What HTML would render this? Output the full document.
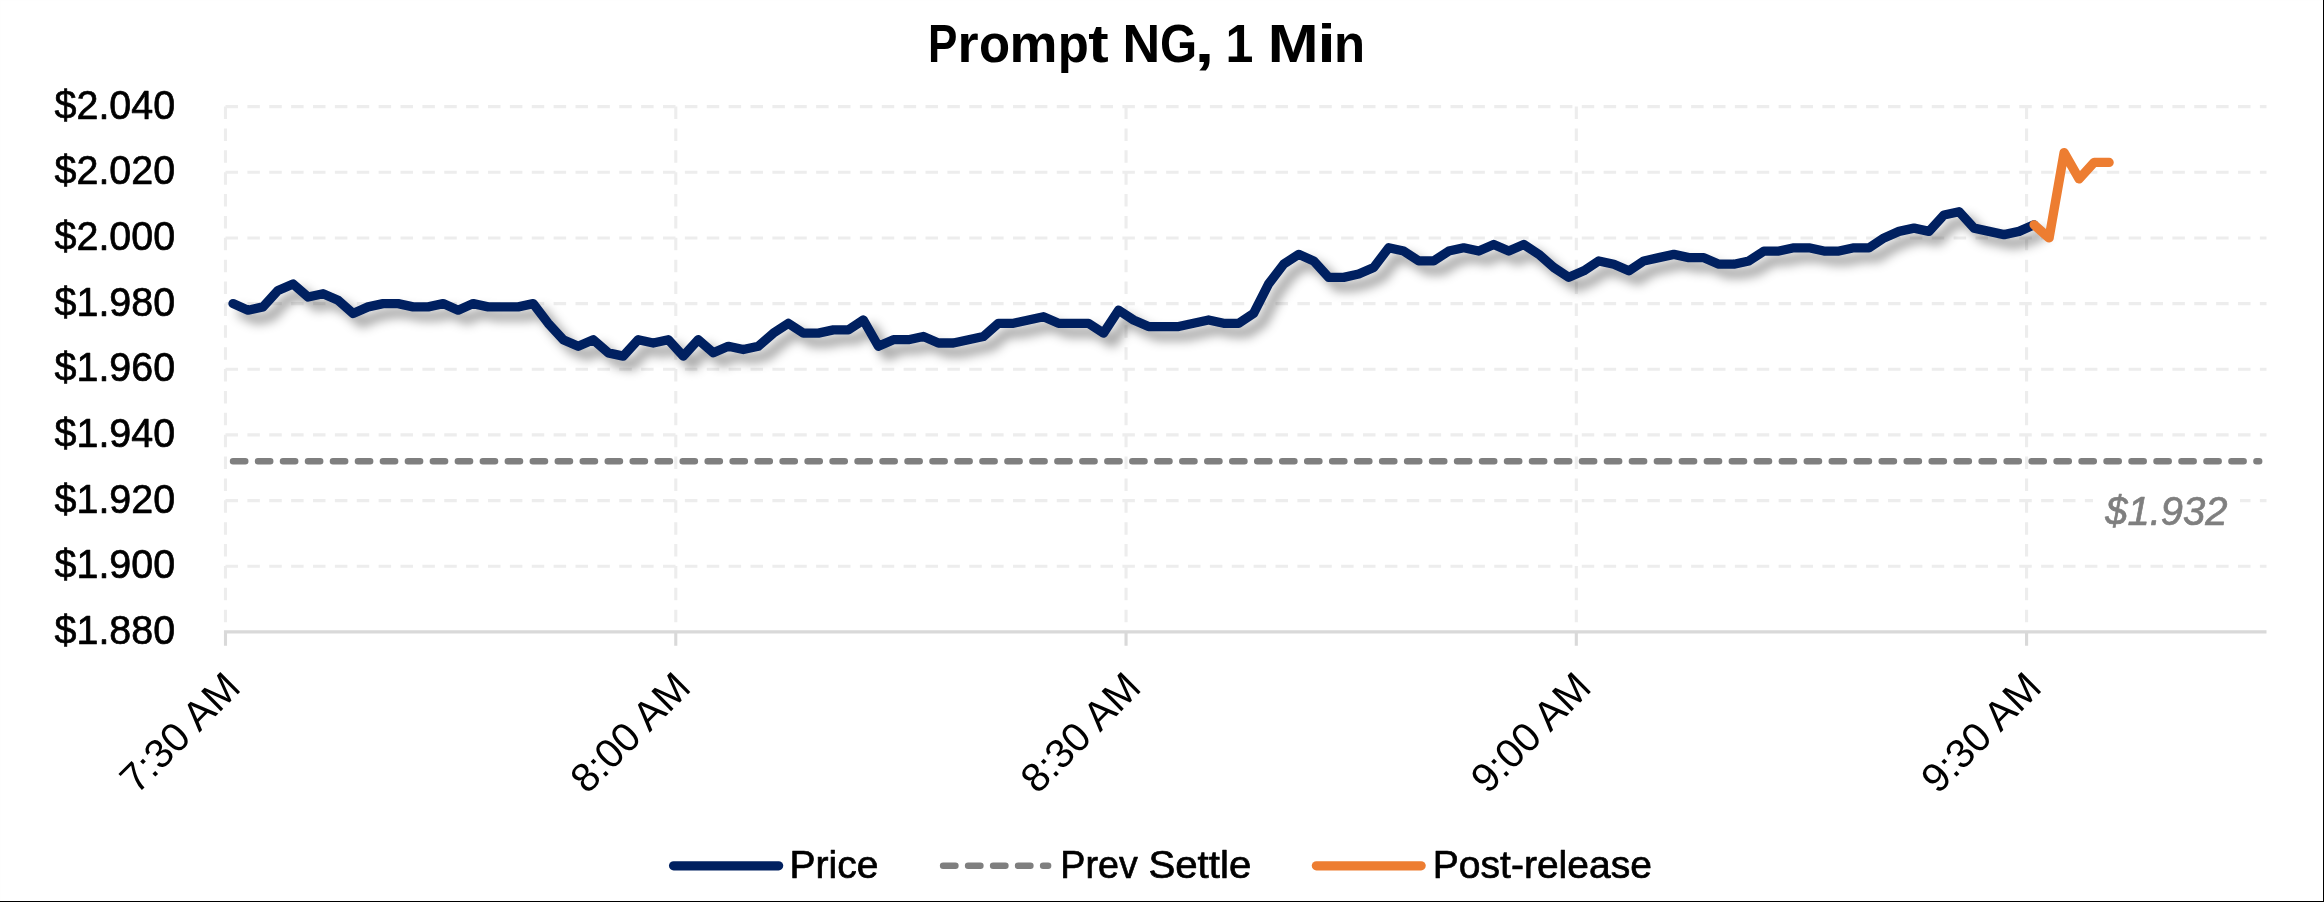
<!DOCTYPE html><html><head><meta charset="utf-8"><title>Prompt NG, 1 Min</title>
<style>html,body{margin:0;padding:0;background:#fff}body{width:2324px;height:902px;overflow:hidden;position:relative}svg{position:absolute;left:0;top:0;display:block;will-change:transform}text{font-family:"Liberation Sans",sans-serif}</style></head><body>
<svg width="2324" height="902" viewBox="0 0 2324 902">
<defs><filter id="sh" x="-5%" y="-50%" width="110%" height="200%" color-interpolation-filters="sRGB"><feGaussianBlur in="SourceAlpha" stdDeviation="5.5"/><feOffset dx="8.84" dy="8.84" result="b"/><feFlood flood-color="#000" flood-opacity="0.4"/><feComposite in2="b" operator="in" result="s"/><feMerge><feMergeNode in="s"/><feMergeNode in="SourceGraphic"/></feMerge></filter></defs>
<rect x="0" y="0" width="2324" height="902" fill="#fff"/>
<path d="M225.50 106.62H2266.50M225.50 172.28H2266.50M225.50 237.94H2266.50M225.50 303.60H2266.50M225.50 369.26H2266.50M225.50 434.92H2266.50M225.50 500.58H2266.50M225.50 566.24H2266.50" stroke="#ededed" stroke-width="3.1" stroke-dasharray="12.5 9.375" fill="none"/>
<path d="M225.50 106.62V631.90M675.77 106.62V631.90M1126.04 106.62V631.90M1576.31 106.62V631.90M2026.58 106.62V631.90" stroke="#ededed" stroke-width="3.1" stroke-dasharray="12.5 9.375" fill="none"/>
<path d="M223.95 631.90H2266.50M225.50 631.90V645.80M675.77 631.90V645.80M1126.04 631.90V645.80M1576.31 631.90V645.80M2026.58 631.90V645.80" stroke="#d9d9d9" stroke-width="3.1" fill="none"/>
<path d="M233.00 461.28H2259.22" stroke="#7f7f7f" stroke-width="6.4" stroke-linecap="round" stroke-dasharray="12.3 12.68" fill="none"/>
<polyline points="233.00,303.60 248.01,310.17 263.02,306.88 278.03,290.47 293.04,283.90 308.05,297.03 323.06,293.75 338.07,300.32 353.08,313.45 368.09,306.88 383.09,303.60 398.10,303.60 413.11,306.88 428.12,306.88 443.13,303.60 458.14,310.17 473.15,303.60 488.16,306.88 503.17,306.88 518.18,306.88 533.18,303.60 548.19,323.30 563.20,339.71 578.21,346.28 593.22,339.71 608.23,352.84 623.24,356.13 638.25,339.71 653.26,343.00 668.27,339.71 683.27,356.13 698.28,339.71 713.29,352.84 728.30,346.28 743.31,349.56 758.32,346.28 773.33,333.15 788.34,323.30 803.35,333.15 818.36,333.15 833.36,329.86 848.37,329.86 863.38,320.01 878.39,346.28 893.40,339.71 908.41,339.71 923.42,336.43 938.43,343.00 953.44,343.00 968.45,339.71 983.45,336.43 998.46,323.30 1013.47,323.30 1028.48,320.01 1043.49,316.73 1058.50,323.30 1073.51,323.30 1088.52,323.30 1103.53,333.15 1118.54,310.17 1133.54,320.01 1148.55,326.58 1163.56,326.58 1178.57,326.58 1193.58,323.30 1208.59,320.01 1223.60,323.30 1238.61,323.30 1253.62,313.45 1268.63,283.90 1283.63,264.20 1298.64,254.35 1313.65,260.92 1328.66,277.34 1343.67,277.34 1358.68,274.05 1373.69,267.49 1388.70,247.79 1403.71,251.07 1418.72,260.92 1433.72,260.92 1448.73,251.07 1463.74,247.79 1478.75,251.07 1493.76,244.51 1508.77,251.07 1523.78,244.51 1538.79,254.35 1553.80,267.49 1568.81,277.34 1583.81,270.77 1598.82,260.92 1613.83,264.20 1628.84,270.77 1643.85,260.92 1658.86,257.64 1673.87,254.35 1688.88,257.64 1703.89,257.64 1718.90,264.20 1733.90,264.20 1748.91,260.92 1763.92,251.07 1778.93,251.07 1793.94,247.79 1808.95,247.79 1823.96,251.07 1838.97,251.07 1853.98,247.79 1868.99,247.79 1883.99,237.94 1899.00,231.37 1914.01,228.09 1929.02,231.37 1944.03,214.96 1959.04,211.68 1974.05,228.09 1989.06,231.37 2004.07,234.66 2019.08,231.37 2034.08,224.81" stroke="#002060" stroke-width="9.3" stroke-linecap="round" stroke-linejoin="round" fill="none" filter="url(#sh)"/>
<polyline points="2034.08,224.81 2049.09,237.94 2064.10,152.58 2079.11,178.85 2094.12,162.43 2109.13,162.43" stroke="#ed7d31" stroke-width="9.3" stroke-linecap="round" stroke-linejoin="round" fill="none"/>
<path d="M673.6 865.8H778.6" stroke="#002060" stroke-width="9.3" stroke-linecap="round" fill="none"/>
<path d="M943.1 865.8H1048.1" stroke="#7f7f7f" stroke-width="6.5" stroke-linecap="round" stroke-dasharray="12.3 12.7" fill="none"/>
<path d="M1316.4 865.8H1421.1" stroke="#ed7d31" stroke-width="9.3" stroke-linecap="round" fill="none"/>
<rect x="2093" y="485" width="147" height="50" fill="#fff"/>
<text y="62.20" font-size="53.8" font-weight="bold" font-style="normal" fill="#000"><tspan x="927.94" textLength="29.37" lengthAdjust="spacingAndGlyphs">P</tspan><tspan x="957.48" textLength="21.09" lengthAdjust="spacingAndGlyphs">r</tspan><tspan x="978.96" textLength="31.12" lengthAdjust="spacingAndGlyphs">o</tspan><tspan x="1009.39" textLength="47.97" lengthAdjust="spacingAndGlyphs">m</tspan><tspan x="1057.69" textLength="31.09" lengthAdjust="spacingAndGlyphs">p</tspan><tspan x="1088.39" textLength="20.41" lengthAdjust="spacingAndGlyphs">t</tspan> <tspan x="1122.51" textLength="37.70" lengthAdjust="spacingAndGlyphs">N</tspan><tspan x="1160.09" textLength="37.11" lengthAdjust="spacingAndGlyphs">G</tspan><tspan x="1194.60" textLength="19.85" lengthAdjust="spacingAndGlyphs">,</tspan> <tspan x="1225.44" textLength="27.87" lengthAdjust="spacingAndGlyphs">1</tspan> <tspan x="1267.84" textLength="50.82" lengthAdjust="spacingAndGlyphs">M</tspan><tspan x="1317.44" textLength="18.11" lengthAdjust="spacingAndGlyphs">i</tspan><tspan x="1334.09" textLength="31.11" lengthAdjust="spacingAndGlyphs">n</tspan></text>
<text transform="translate(54.56 118.62) scale(0.9810 1)" font-size="40.2" font-weight="normal" font-style="normal" fill="#000" stroke="#000" stroke-width="0.7" stroke-linejoin="round">$2.040</text>
<text transform="translate(54.56 184.28) scale(0.9810 1)" font-size="40.2" font-weight="normal" font-style="normal" fill="#000" stroke="#000" stroke-width="0.7" stroke-linejoin="round">$2.020</text>
<text transform="translate(54.56 249.94) scale(0.9810 1)" font-size="40.2" font-weight="normal" font-style="normal" fill="#000" stroke="#000" stroke-width="0.7" stroke-linejoin="round">$2.000</text>
<text transform="translate(54.56 315.60) scale(0.9810 1)" font-size="40.2" font-weight="normal" font-style="normal" fill="#000" stroke="#000" stroke-width="0.7" stroke-linejoin="round">$1.980</text>
<text transform="translate(54.56 381.26) scale(0.9810 1)" font-size="40.2" font-weight="normal" font-style="normal" fill="#000" stroke="#000" stroke-width="0.7" stroke-linejoin="round">$1.960</text>
<text transform="translate(54.56 446.92) scale(0.9810 1)" font-size="40.2" font-weight="normal" font-style="normal" fill="#000" stroke="#000" stroke-width="0.7" stroke-linejoin="round">$1.940</text>
<text transform="translate(54.56 512.58) scale(0.9810 1)" font-size="40.2" font-weight="normal" font-style="normal" fill="#000" stroke="#000" stroke-width="0.7" stroke-linejoin="round">$1.920</text>
<text transform="translate(54.56 578.24) scale(0.9810 1)" font-size="40.2" font-weight="normal" font-style="normal" fill="#000" stroke="#000" stroke-width="0.7" stroke-linejoin="round">$1.900</text>
<text transform="translate(54.56 643.90) scale(0.9810 1)" font-size="40.2" font-weight="normal" font-style="normal" fill="#000" stroke="#000" stroke-width="0.7" stroke-linejoin="round">$1.880</text>
<text transform="translate(240.10 692.00) rotate(-45) scale(1.0009 1) translate(-145.91 0)" font-size="40.7" font-weight="normal" font-style="normal" fill="#000">7:30 AM</text>
<text transform="translate(690.37 692.00) rotate(-45) scale(0.9995 1) translate(-145.91 0)" font-size="40.7" font-weight="normal" font-style="normal" fill="#000">8:00 AM</text>
<text transform="translate(1140.64 692.00) rotate(-45) scale(0.9995 1) translate(-145.91 0)" font-size="40.7" font-weight="normal" font-style="normal" fill="#000">8:30 AM</text>
<text transform="translate(1590.91 692.00) rotate(-45) scale(0.9995 1) translate(-145.91 0)" font-size="40.7" font-weight="normal" font-style="normal" fill="#000">9:00 AM</text>
<text transform="translate(2041.18 692.00) rotate(-45) scale(0.9995 1) translate(-145.91 0)" font-size="40.7" font-weight="normal" font-style="normal" fill="#000">9:30 AM</text>
<text transform="translate(789.52 878.35) scale(0.9892 1)" font-size="39.5" font-weight="normal" font-style="normal" fill="#000" stroke="#000" stroke-width="0.7" stroke-linejoin="round">Price</text>
<text y="878.35" font-size="39.5" font-weight="normal" font-style="normal" fill="#000" stroke="#000" stroke-width="0.7" stroke-linejoin="round"><tspan x="1060.33" textLength="77.55" lengthAdjust="spacingAndGlyphs">Prev</tspan> <tspan x="1148.44" textLength="102.81" lengthAdjust="spacingAndGlyphs">Settle</tspan></text>
<text transform="translate(1432.83 878.35) scale(0.9882 1)" font-size="39.5" font-weight="normal" font-style="normal" fill="#000" stroke="#000" stroke-width="0.7" stroke-linejoin="round">Post-release</text>
<text transform="translate(2105.25 525.45) scale(0.9942 1)" font-size="40.2" font-weight="normal" font-style="italic" fill="#7f7f7f" stroke="#7f7f7f" stroke-width="0.7" stroke-linejoin="round">$1.932</text>
<rect x="0" y="0" width="2324" height="1" fill="#fefefe"/><rect x="0" y="0" width="1" height="902" fill="#fefefe"/>
<rect x="2323" y="0" width="1" height="902" fill="#000"/><rect x="0" y="901" width="2324" height="1" fill="#000"/>
</svg></body></html>
